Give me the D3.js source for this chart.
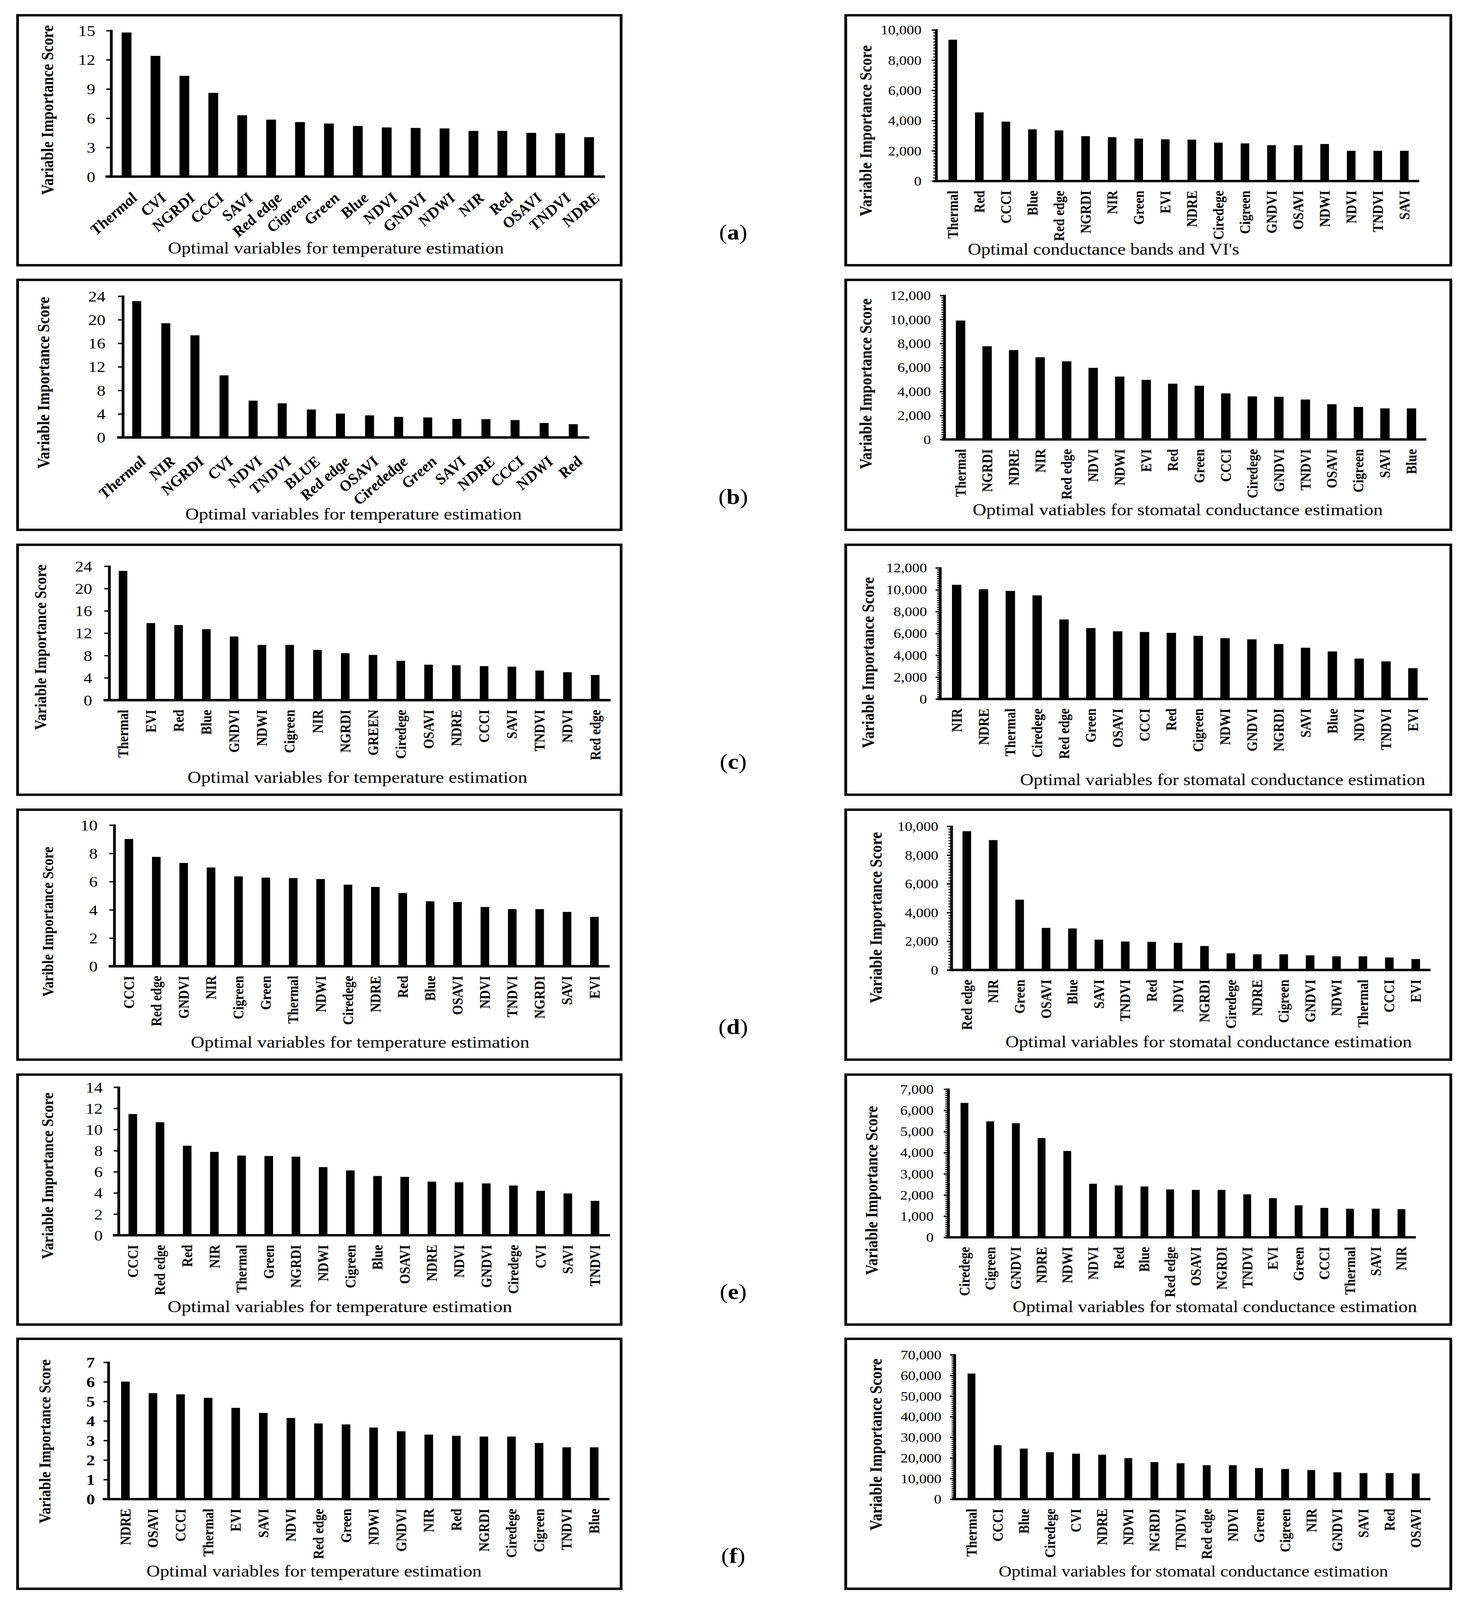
<!DOCTYPE html>
<html><head><meta charset="utf-8">
<script src="https://cdn.jsdelivr.net/npm/d3@7"></script>
<style>html,body{margin:0;padding:0;background:#fff;overflow:hidden} svg{display:block}</style>
</head><body>
<script>
// ---------------- DATA ----------------
const catsA1 = ["Thermal","CVI","NGRDI","CCCI","SAVI","Red edge","Cigreen","Green","Blue","NDVI","GNDVI","NDWI","NIR","Red","OSAVI","TNDVI","NDRE"];
const valsA1 = [14.8,12.4,10.35,8.6,6.3,5.85,5.6,5.45,5.2,5.05,5.0,4.95,4.7,4.7,4.5,4.45,4.05];
const ticksA1 = [0,3,6,9,12,15];

const catsA2 = ["Thermal","Red","CCCI","Blue","Red edge","NGRDI","NIR","Green","EVI","NDRE","Ciredege","Cigreen","GNDVI","OSAVI","NDWI","NDVI","TNDVI","SAVI"];
const valsA2 = [9350,4540,3930,3420,3350,2970,2900,2810,2760,2740,2540,2490,2370,2370,2450,2000,2000,2000];
const ticksA2 = [0,2000,4000,6000,8000,10000];

const catsB1 = ["Thermal","NIR","NGRDI","CVI","NDVI","TNDVI","BLUE","Red edge","OSAVI","Cirededge","Green","SAVI","NDRE","CCCI","NDWI","Red"];
const valsB1 = [23.15,19.4,17.35,10.55,6.25,5.8,4.75,4.05,3.75,3.5,3.4,3.15,3.1,2.95,2.45,2.25];
const ticksB1 = [0,4,8,12,16,20,24];

const catsB2 = ["Thermal","NGRDI","NDRE","NIR","Red edge","NDVI","NDWI","EVI","Red","Green","CCCI","Ciredege","GNDVI","TNDVI","OSAVI","Cigreen","SAVI","Blue"];
const valsB2 = [9910,7770,7450,6850,6510,5970,5240,4970,4650,4480,3840,3590,3560,3330,2940,2710,2590,2590];
const ticksB2 = [0,2000,4000,6000,8000,10000,12000];

const catsC1 = ["Thermal","EVI","Red","Blue","GNDVI","NDWI","Cigreen","NIR","NGRDI","GREEN","Ciredege","OSAVI","NDRE","CCCI","SAVI","TNDVI","NDVI","Red edge"];
const valsC1 = [23.15,13.8,13.45,12.7,11.4,9.9,9.9,9.0,8.4,8.1,7.05,6.35,6.25,6.1,6.0,5.3,5.0,4.5];
const ticksC1 = [0,4,8,12,16,20,24];

const catsC2 = ["NIR","NDRE","Thermal","Ciredege","Red edge","Green","OSAVI","CCCI","Red","Cigreen","NDWI","GNDVI","NGRDI","SAVI","Blue","NDVI","TNDVI","EVI"];
const valsC2 = [10450,10040,9890,9480,7280,6490,6190,6130,6050,5780,5560,5460,5030,4690,4350,3700,3440,2820];
const ticksC2 = [0,2000,4000,6000,8000,10000,12000];

const catsD1 = ["CCCI","Red edge","GNDVI","NIR","Cigreen","Green","Thermal","NDWI","Ciredege","NDRE","Red","Blue","OSAVI","NDVI","TNDVI","NGRDI","SAVI","EVI"];
const valsD1 = [9.02,7.75,7.32,7.0,6.37,6.28,6.25,6.18,5.78,5.62,5.19,4.6,4.55,4.2,4.05,4.05,3.85,3.5];
const ticksD1 = [0,2,4,6,8,10];

const catsD2 = ["Red edge","NIR","Green","OSAVI","Blue","SAVI","TNDVI","Red","NDVI","NGRDI","Ciredege","NDRE","Cigreen","GNDVI","NDWI","Thermal","CCCI","EVI"];
const valsD2 = [9660,9040,4890,2930,2890,2110,1980,1960,1890,1670,1160,1090,1090,1020,950,950,870,760];
const ticksD2 = [0,2000,4000,6000,8000,10000];

const catsE1 = ["CCCI","Red edge","Red","NIR","Thermal","Green","NGRDI","NDWI","Cigreen","Blue","OSAVI","NDRE","NDVI","GNDVI","Ciredege","CVI","SAVI","TNDVI"];
const valsE1 = [11.46,10.68,8.46,7.88,7.53,7.49,7.43,6.44,6.13,5.6,5.52,5.07,5.01,4.9,4.7,4.2,3.95,3.25];
const ticksE1 = [0,2,4,6,8,10,12,14];

const catsE2 = ["Ciredege","Cigreen","GNDVI","NDRE","NDWI","NDVI","Red","Blue","Red edge","OSAVI","NGRDI","TNDVI","EVI","Green","CCCI","Thermal","SAVI","NIR"];
const valsE2 = [6350,5480,5390,4690,4080,2530,2450,2400,2260,2240,2240,2030,1850,1510,1390,1350,1350,1330];
const ticksE2 = [0,1000,2000,3000,4000,5000,6000,7000];

const catsF1 = ["NDRE","OSAVI","CCCI","Thermal","EVI","SAVI","NDVI","Red edge","Green","NDWI","GNDVI","NIR","Red","NGRDI","Ciredege","Cigreen","TNDVI","Blue"];
const valsF1 = [6.01,5.42,5.36,5.18,4.67,4.41,4.15,3.87,3.82,3.66,3.47,3.3,3.24,3.2,3.2,2.87,2.65,2.65];
const ticksF1 = [0,1,2,3,4,5,6,7];

const catsF2 = ["Thermal","CCCI","Blue","Ciredege","CVI","NDRE","NDWI","NGRDI","TNDVI","Red edge","NDVI","Green","Cigreen","NIR","GNDVI","SAVI","Red","OSAVI"];
const valsF2 = [60900,26180,24500,22750,22030,21550,19870,17960,17400,16440,16440,15080,14610,14130,13010,12610,12610,12450];
const ticksF2 = [0,10000,20000,30000,40000,50000,60000,70000];

const panelLetters = ["a","b","c","d","e","f"];
const yTitleStd = "Variable Importance Score";
const yTitleD1 = "Varible Importance Score";
const xTitleTemp = "Optimal variables for temperature estimation";
const xTitleA2 = "Optimal conductance bands and VI's";
const xTitleB2 = "Optimal vatiables for stomatal conductance estimation";
const xTitleStom = "Optimal variables for stomatal conductance estimation";

// ---------------- LAYOUT ----------------
const W = 3758, H = 4711;
const rowTops = [45, 824, 1604, 2384, 3164, 3942];
const boxH = 736;
const boxL = [45, 1590], boxR = [2165, 3714];
const SERIF = '"Liberation Serif","Times New Roman",serif';

const panels = [
 {cats:catsA1, vals:valsA1, ticks:ticksA1, side:"L", axisX:285, yTopPx:90, yZero:520, c0:324, step:74, bw:25, mode:"diag", ldx:9, ldy:44, gap:41, xt:{t:xTitleTemp,x:860,y:747,len:860}, yt:{t:yTitleStd,x:122,y:324,len:500}},
 {cats:catsA2, vals:valsA2, ticks:ticksA2, side:"R", axisX:2397, yTopPx:88, yZero:533, c0:2439, step:68, bw:22, mode:"vert", gap:38, xt:{t:xTitleA2,x:2825,y:750,len:695}, yt:{t:yTitleStd,x:2216,y:385,len:504}},
 {cats:catsB1, vals:valsB1, ticks:ticksB1, side:"L", axisX:315, yTopPx:872, yZero:1288, c0:350, step:74.5, bw:23, mode:"diag", ldx:5, ldy:52, gap:45, xt:{t:xTitleTemp,x:905,y:1530,len:861}, yt:{t:yTitleStd,x:111,y:1127,len:506}},
 {cats:catsB2, vals:valsB2, ticks:ticksB2, side:"R", axisX:2418, yTopPx:870, yZero:1294, c0:2459, step:67.9, bw:24, mode:"vert", gap:35, xt:{t:xTitleB2,x:3015,y:1517,len:1050}, yt:{t:yTitleStd,x:2216,y:1130,len:503}},
 {cats:catsC1, vals:valsC1, ticks:ticksC1, side:"L", axisX:280, yTopPx:1667, yZero:2061.5, c0:315, step:71.1, bw:22, mode:"vert", gap:44, xt:{t:xTitleTemp,x:915,y:2305,len:870}, yt:{t:yTitleStd,x:104,y:1906,len:487}},
 {cats:catsC2, vals:valsC2, ticks:ticksC2, side:"R", axisX:2407, yTopPx:1672, yZero:2058, c0:2449, step:68.7, bw:24, mode:"vert", gap:34, xt:{t:xTitleStom,x:3130,y:2312,len:1037}, yt:{t:yTitleStd,x:2222,y:1951,len:504}},
 {cats:catsD1, vals:valsD1, ticks:ticksD1, side:"L", axisX:293, yTopPx:2429.5, yZero:2845, c0:330, step:70.1, bw:22, mode:"vert", gap:43, xt:{t:xTitleTemp,x:922,y:3085,len:867}, yt:{t:yTitleD1,x:122,y:2714,len:442}},
 {cats:catsD2, vals:valsD2, ticks:ticksD2, side:"R", axisX:2436, yTopPx:2433, yZero:2856, c0:2475, step:67.6, bw:22, mode:"vert", gap:34, xt:{t:xTitleStom,x:3094,y:3083,len:1040}, yt:{t:yTitleStd,x:2242,y:2702,len:504}},
 {cats:catsE1, vals:valsE1, ticks:ticksE1, side:"L", axisX:304, yTopPx:3201, yZero:3637, c0:340, step:69.6, bw:22, mode:"vert", gap:41, xt:{t:xTitleTemp,x:870,y:3863,len:882}, yt:{t:yTitleStd,x:122,y:3462,len:491}},
 {cats:catsE2, vals:valsE2, ticks:ticksE2, side:"R", axisX:2428, yTopPx:3207, yZero:3643, c0:2469, step:65.8, bw:20, mode:"vert", gap:38, xt:{t:xTitleStom,x:3110,y:3863,len:1035}, yt:{t:yTitleStd,x:2232,y:3505,len:498}},
 {cats:catsF1, vals:valsF1, ticks:ticksF1, side:"L", axisX:278, yTopPx:4011, yZero:4414, c0:321, step:70.6, bw:22, mode:"vert", gap:35, boldTicks:true, xt:{t:xTitleTemp,x:804,y:4642,len:858}, yt:{t:yTitleStd,x:115,y:4244,len:483}},
 {cats:catsF2, vals:valsF2, ticks:ticksF2, side:"R", axisX:2444, yTopPx:3989, yZero:4414, c0:2487, step:66.9, bw:20, mode:"vert", gap:34, xt:{t:xTitleStom,x:3055,y:4642,len:997}, yt:{t:yTitleStd,x:2242,y:4253,len:507}}
];

// ---------------- DRAW ----------------
// The whole figure is mapped onto the visible viewport so nothing is clipped.
const vw = window.innerWidth || W, vh = window.innerHeight || H;
const svg = d3.select("body").append("svg")
  .attr("width", vw).attr("height", vh)
  .attr("viewBox", `0 0 ${W} ${H}`)
  .attr("preserveAspectRatio", "none");
svg.append("rect").attr("width", W).attr("height", H).attr("fill", "#fff");

function fit(t, len) {
  const L = t.node().getComputedTextLength();
  const fs = parseFloat(t.attr("font-size"));
  if (L > 0) t.attr("font-size", fs * len / L);
}

// boxes and panel letters
rowTops.forEach((top, i) => {
  [boxL, boxR].forEach(b => {
    svg.append("rect").attr("x", b[0]).attr("y", top)
      .attr("width", b[1] - b[0]).attr("height", boxH)
      .attr("fill", "none").attr("stroke", "#000").attr("stroke-width", 7);
  });
  const lt = svg.append("text").attr("x", 1877).attr("y", top + 660)
    .attr("text-anchor", "middle").attr("font-family", SERIF).attr("font-size", 62);
  lt.append("tspan").text("(");
  lt.append("tspan").attr("font-weight", "bold").text(panelLetters[i]);
  lt.append("tspan").text(")");
});

panels.forEach(p => {
  const g = svg.append("g");
  const n = p.cats.length;
  const x0 = p.c0 - p.step / 2;
  const xs = d3.scaleBand().domain(p.cats).range([x0, x0 + n * p.step]).paddingInner(0).paddingOuter(0);
  const maxT = p.ticks[p.ticks.length - 1];
  const ys = d3.scaleLinear().domain([0, maxT]).range([p.yZero, p.yTopPx]);
  const isR = p.side === "R";
  const tickLen = isR ? 12 : 13;

  // bars
  g.selectAll("rect.bar").data(p.vals).join("rect").attr("class", "bar")
    .attr("x", (d, i) => xs(p.cats[i]) + xs.bandwidth() / 2 - p.bw / 2)
    .attr("y", d => ys(d))
    .attr("width", p.bw)
    .attr("height", d => p.yZero - ys(d))
    .attr("fill", "#000");

  // minor ticks (right panels)
  if (isR) {
    const major = p.ticks[1] - p.ticks[0];
    const minor = d3.range(0, maxT + 1e-9, major / 10).filter(v => Math.abs(v / major - Math.round(v / major)) > 1e-6);
    g.selectAll("line.minor").data(minor).join("line").attr("class", "minor")
      .attr("x1", p.axisX - 8).attr("x2", p.axisX)
      .attr("y1", d => ys(d)).attr("y2", d => ys(d))
      .attr("stroke", "#000").attr("stroke-width", 3);
  }

  // y axis
  const fmt = isR ? d3.format(",") : d3.format("d");
  const ax = g.append("g").attr("transform", `translate(${p.axisX},0)`)
    .call(d3.axisLeft(ys).tickValues(p.ticks).tickSize(tickLen).tickPadding(p.gap - tickLen).tickFormat(fmt));
  ax.select(".domain").remove();
  ax.selectAll(".tick line").attr("stroke", "#000").attr("stroke-width", 4);
  ax.selectAll(".tick text").attr("fill", "#000")
    .attr("font-family", SERIF)
    .attr("font-size", isR ? 38 : 44)
    .attr("font-weight", p.boldTicks ? "bold" : "normal")
    .attr("dy", "0.34em");
  ax.attr("font-family", null).attr("font-size", null);

  // axis lines
  g.append("line").attr("x1", p.axisX).attr("x2", p.axisX)
    .attr("y1", p.yZero).attr("y2", p.yTopPx - 2)
    .attr("stroke", "#000").attr("stroke-width", 7);
  g.append("line").attr("x1", p.axisX - (isR ? 7 : 15)).attr("x2", x0 + n * p.step + 4)
    .attr("y1", p.yZero).attr("y2", p.yZero)
    .attr("stroke", "#000").attr("stroke-width", 7);

  // category labels
  if (p.mode === "diag") {
    g.selectAll("text.cat").data(p.cats).join("text").attr("class", "cat")
      .attr("transform", d => `translate(${xs(d) + xs.bandwidth() / 2 + p.ldx},${p.yZero + p.ldy}) rotate(-45)`)
      .attr("text-anchor", "end").attr("dominant-baseline", "hanging")
      .attr("font-family", SERIF).attr("font-size", 43)
      .attr("font-weight", "bold").attr("font-style", "italic")
      .text(d => d);
  } else {
    g.selectAll("text.cat").data(p.cats).join("text").attr("class", "cat")
      .attr("transform", d => `translate(${xs(d) + xs.bandwidth() / 2},${p.yZero + 28}) rotate(-90)`)
      .attr("text-anchor", "end").attr("dominant-baseline", "central")
      .attr("font-family", SERIF).attr("font-size", 38)
      .attr("font-weight", "bold")
      .text(d => d);
  }

  // titles
  const xt = g.append("text").attr("x", p.xt.x).attr("y", p.xt.y)
    .attr("text-anchor", "middle").attr("font-family", SERIF).attr("font-size", 44)
    .text(p.xt.t);
  fit(xt, p.xt.len);

  const yt = g.append("text")
    .attr("transform", `translate(${p.yt.x},${p.yt.y}) rotate(-90)`)
    .attr("text-anchor", "middle").attr("dominant-baseline", "central")
    .attr("font-family", SERIF).attr("font-size", 43).attr("font-weight", "bold")
    .text(p.yt.t);
  fit(yt, p.yt.len);
});
</script>
</body></html>
